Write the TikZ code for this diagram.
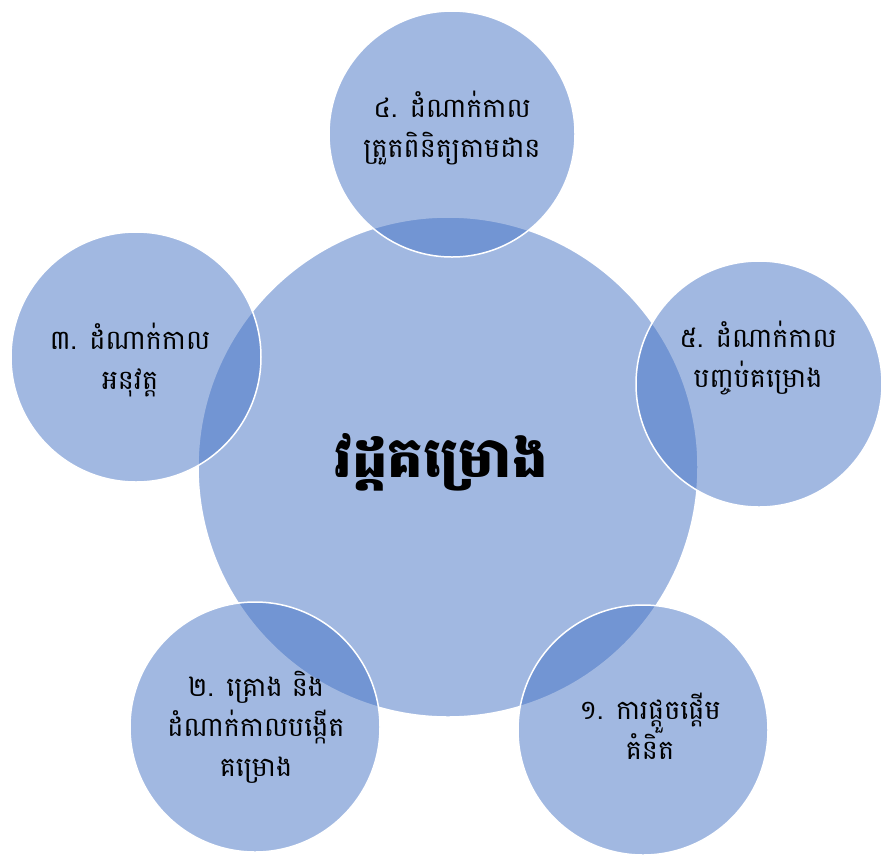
\documentclass[tikz,border=0pt]{standalone}
\usepackage{fontspec}
\newfontfamily\khmer[Script=Khmer]{Battambang}
\definecolor{cblue}{RGB}{68,114,196}
\begin{document}
\begin{tikzpicture}[x=1pt,y=-1pt,
  bub/.style={circle,fill=cblue,fill opacity=0.5,draw=white,draw opacity=1,line width=1.5pt,inner sep=0pt},
  lbl/.style={align=center,font=\khmer\fontsize{27}{40}\selectfont,text=black,inner sep=0pt}]
\useasboundingbox (0,0) rectangle (881,855);
\node[bub,minimum size=500] (c) at (448,467) {};
\node[bub,minimum size=246] (s4) at (452,134) {};
\node[bub,minimum size=250] (s3) at (136,357) {};
\node[bub,minimum size=246] (s5) at (759,384) {};
\node[bub,minimum size=250] (s2) at (255,727) {};
\node[bub,minimum size=250] (s1) at (643,730) {};
\node[font=\khmer\bfseries\fontsize{56}{60}\selectfont] (tc) at (441,462) {វដ្តគម្រោង};
\node[lbl] (t4) at (452,128) {៤. ដំណាក់កាល\\ត្រួតពិនិត្យតាមដាន};
\node[lbl] (t3) at (130,360) {៣. ដំណាក់កាល\\អនុវត្ត};
\node[lbl] (t5) at (758,358) {៥. ដំណាក់កាល\\បញ្ចប់គម្រោង};
\node[lbl] (t2) at (256,727) {២. គ្រោង និង\\ដំណាក់កាលបង្កើត\\គម្រោង};
\node[lbl] (t1) at (650,726) {១. ការផ្តួចផ្តើម\\គំនិត};
\end{tikzpicture}
\end{document}
